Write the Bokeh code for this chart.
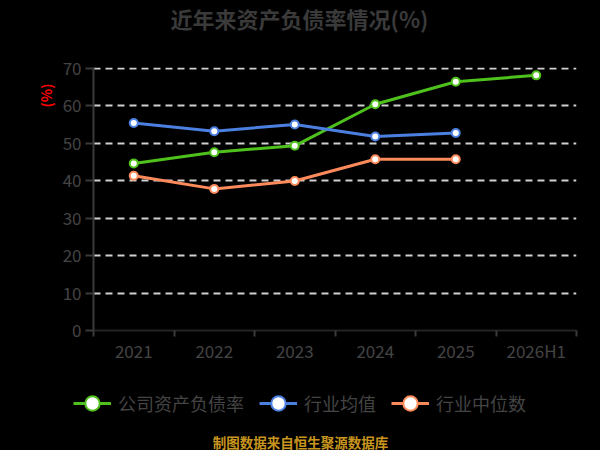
import numpy as np
from bokeh.plotting import figure
from bokeh.layouts import column
from bokeh.models import (Range1d, FixedTicker, Legend, LegendItem, Title, Label)
from bokeh.embed import file_html
from bokeh.resources import INLINE

categories = ["2021", "2022", "2023", "2024", "2025", "2026H1"]
company = [44.6, 47.6, 49.3, 60.4, 66.4, 68.1]
industry_avg = [55.4, 53.2, 55.0, 51.8, 52.7]
industry_median = [41.3, 37.8, 39.9, 45.7, 45.7]
y_ticks = [0, 10, 20, 30, 40, 50, 60, 70]
series_names = ["公司资产负债率", "行业均值", "行业中位数"]
colors = ["#4fc11d", "#4b7fe0", "#fd8a5a"]
chart_title = "近年来资产负债率情况(%)"
unit_label = "(%)"
source_note = "制图数据来自恒生聚源数据库"

FONT = "Noto Sans CJK SC"
W = 600
BLACK = {"background-color": "black"}
n = len(categories)
xs = np.arange(n) + 0.5


def blank_fig(h):
    f = figure(width=W, height=h, output_backend="svg", toolbar_location=None,
               x_range=Range1d(0, 1), y_range=Range1d(0, 1),
               min_border=0, min_border_left=0, min_border_right=0,
               min_border_top=0, min_border_bottom=0, styles=BLACK)
    f.axis.visible = False
    f.grid.visible = False
    f.background_fill_color = "black"
    f.border_fill_color = "black"
    f.outline_line_color = None
    return f


# ---- title figure ----
ft = blank_fig(48)
ft.add_layout(Label(x=299, y=31, x_units="screen", y_units="screen",
                    text=chart_title, text_font=FONT, text_font_size="22px",
                    text_font_style="bold", text_color="#3a3a3a",
                    text_align="center", text_baseline="middle"))

# ---- main chart ----
p = figure(width=W, height=317, output_backend="svg", toolbar_location=None,
           x_range=Range1d(0, n), y_range=Range1d(0, 70.2),
           min_border_left=93, min_border_right=24, min_border_top=19,
           min_border_bottom=34, styles=BLACK)
p.background_fill_color = "black"
p.border_fill_color = "black"
p.outline_line_color = None

p.xgrid.grid_line_color = None
p.ygrid.grid_line_color = "#d0d0d0"
p.ygrid.grid_line_width = 2
p.ygrid.grid_line_dash = "7 5"

p.xaxis.ticker = FixedTicker(ticks=list(xs), minor_ticks=list(range(n + 1)))
p.xaxis.major_label_overrides = {float(x): c for x, c in zip(xs, categories)}
p.xaxis.major_tick_line_color = None
p.xaxis.major_tick_out = 3
p.xaxis.major_tick_in = 0
p.xaxis.minor_tick_line_color = "#3a3a3a"
p.xaxis.minor_tick_line_width = 2
p.xaxis.minor_tick_out = 6
p.xaxis.minor_tick_in = 0
p.xaxis.major_label_standoff = 1
p.xaxis.axis_line_color = "#3a3a3a"
p.xaxis.axis_line_width = 2
p.xaxis.axis_line_alpha = 0.6
p.xaxis.major_label_text_font = FONT
p.xaxis.major_label_text_font_size = "17px"
p.xaxis.major_label_text_color = "#444444"

p.yaxis.ticker = FixedTicker(ticks=y_ticks)
p.yaxis.minor_tick_line_color = None
p.yaxis.major_tick_line_color = "#3a3a3a"
p.yaxis.major_tick_line_width = 2
p.yaxis.major_tick_out = 8
p.yaxis.major_tick_in = 0
p.yaxis.major_label_standoff = 4
p.yaxis.axis_line_color = "#3a3a3a"
p.yaxis.axis_line_width = 2
p.yaxis.major_label_text_font = FONT
p.yaxis.major_label_text_font_size = "17px"
p.yaxis.major_label_text_color = "#444444"

p.add_layout(Title(text=unit_label, align="right", offset=16, standoff=7,
                   text_font=FONT, text_font_size="14px", text_color="#ff0000",
                   text_font_style="bold"), "left")

for vals, col in zip([company, industry_avg, industry_median], colors):
    xv = xs[:len(vals)]
    p.line(xv, vals, line_color=col, line_width=3)
    p.scatter(xv, vals, size=8, fill_color="white", line_color=col, line_width=2)

# ---- legend + source figure ----
fb = blank_fig(85)
items = []
for name, col in zip(series_names, colors):
    lr = fb.line([np.nan], [np.nan], line_color=col, line_width=3)
    sr = fb.scatter([np.nan], [np.nan], size=8, fill_color="white",
                    line_color=col, line_width=2)
    items.append(LegendItem(label=name, renderers=[lr, sr]))
fb.add_layout(Legend(items=items, orientation="horizontal", location=(73, 29),
                     glyph_width=38, glyph_height=36, label_standoff=7, spacing=15,
                     padding=0, margin=0, background_fill_alpha=0,
                     border_line_alpha=0, label_text_font=FONT,
                     label_text_font_size="18px", label_text_color="#444444",
                     label_text_baseline="middle"))
fb.add_layout(Label(x=300, y=9, x_units="screen", y_units="screen",
                    text=source_note, text_font=FONT, text_font_size="13.5px",
                    text_font_style="bold", text_color="#c8961e",
                    text_align="center", text_baseline="middle"))

layout = column(ft, column(p, styles=BLACK), fb, spacing=0, styles=BLACK)
open("out.html", "w").write(file_html(layout, INLINE))
